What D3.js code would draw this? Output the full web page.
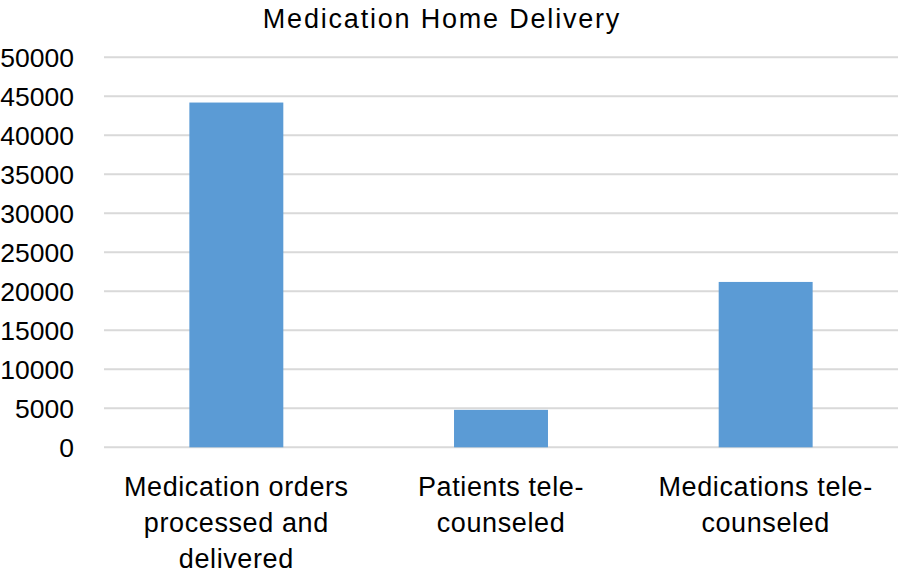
<!DOCTYPE html>
<html>
<head>
<meta charset="utf-8">
<script src="https://cdn.jsdelivr.net/npm/d3@7"></script>
<style>
  body { margin: 0; background: #fff; }
  text { font-family: "Liberation Sans", Arial, sans-serif; fill: #000; }
</style>
</head>
<body>
<script>
const categories = [
  ["Medication orders", "processed and", "delivered"],
  ["Patients tele-", "counseled"],
  ["Medications tele-", "counseled"]
];
const values = [44200, 4800, 21200];
const yTicks = [0, 5000, 10000, 15000, 20000, 25000, 30000, 35000, 40000, 45000, 50000];
const title = "Medication Home Delivery";

const w = 898;
const h = 578;

const svg = d3.select("body")
              .append("svg")
              .attr("width", w)
              .attr("height", h);

const x = d3.scaleBand()
            .domain(d3.range(values.length))
            .range([104, 898])
            .paddingInner(0.645)
            .paddingOuter(0.3225);

const y = d3.scaleLinear()
            .domain([0, 50000])
            .range([447.3, 57.3]);

// gridlines
svg.append("g")
   .selectAll("line")
   .data(yTicks)
   .enter()
   .append("line")
   .attr("x1", 104)
   .attr("x2", 898)
   .attr("y1", d => y(d))
   .attr("y2", d => y(d))
   .attr("stroke", "#d9d9d9")
   .attr("stroke-width", 2);

// y axis labels
const yAxis = d3.axisLeft(y)
                .tickValues(yTicks)
                .tickSize(0)
                .tickPadding(0)
                .tickFormat(d => d);

svg.append("g")
   .attr("transform", "translate(74,0)")
   .call(yAxis)
   .call(g => g.select(".domain").remove())
   .selectAll("text")
   .attr("font-size", 26.5)
   .attr("font-family", "Liberation Sans, Arial, sans-serif")
   .attr("fill", "#000")
   .attr("dy", "0.35em");

svg.selectAll("rect")
   .data(values)
   .enter()
   .append("rect")
   .attr("x", (d, i) => x(i))
   .attr("width", x.bandwidth())
   .attr("y", d => y(d))
   .attr("height", d => y(0) - y(d))
   .attr("fill", "#5b9bd5");

// category labels
const labels = svg.append("g")
   .selectAll("text")
   .data(categories)
   .enter()
   .append("text")
   .attr("text-anchor", "middle")
   .attr("font-size", 27)
   .attr("letter-spacing", 0.6);

labels.selectAll("tspan")
   .data(d => d)
   .enter()
   .append("tspan")
   .attr("x", function() {
       const i = categories.indexOf(d3.select(this.parentNode).datum());
       return x(i) + x.bandwidth() / 2;
   })
   .attr("y", (d, j) => 496 + j * 36)
   .text(d => d);

svg.append("text")
   .attr("x", 442)
   .attr("y", 28)
   .attr("text-anchor", "middle")
   .attr("font-size", 27)
   .attr("letter-spacing", 1.8)
   .text(title);
</script>
</body>
</html>
